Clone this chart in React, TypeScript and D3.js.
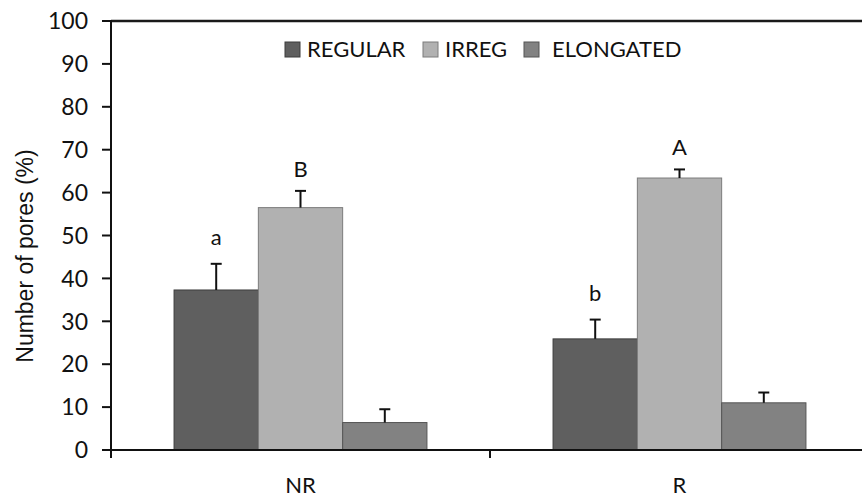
import React from "react";
import * as d3 from "d3";

// Treatment groups on the x axis
const groups = ["NR", "R"];
// Pore shape classes (series)
const series = ["REGULAR", "IRREG", "ELONGATED"];
// Mean share of pores (%) per group, one array per series
const regularValues = [37.3, 25.9];
const irregValues = [56.5, 63.4];
const elongatedValues = [6.4, 11.0];
// Standard errors (upper whiskers)
const regularErrors = [6.1, 4.5];
const irregErrors = [3.9, 2.0];
const elongatedErrors = [3.1, 2.4];
// Significance letters (empty = none)
const regularLetters = ["a", "b"];
const irregLetters = ["B", "A"];
const elongatedLetters = ["", ""];
// Y axis ticks
const yTicks = [0, 10, 20, 30, 40, 50, 60, 70, 80, 90, 100];

const seriesValues = [regularValues, irregValues, elongatedValues];
const seriesErrors = [regularErrors, irregErrors, elongatedErrors];
const seriesLetters = [regularLetters, irregLetters, elongatedLetters];

const fills = ["#5f5f5f", "#b1b1b1", "#828282"];
const strokes = ["#3c3c3c", "#7c7c7c", "#555555"];

const W = 862;
const H = 497;
const labelFont = "Lato, 'Open Sans', sans-serif";

export default function App() {
  const x0 = 111;
  const y0 = 450;
  const yTop = 21;

  const y = d3.scaleLinear().domain([0, 100]).range([y0, yTop]);
  const x = d3.scaleBand().domain(groups).range([x0, 869]).paddingInner(0).paddingOuter(0);
  const xs = d3
    .scaleBand()
    .domain(series)
    .range([0, x.bandwidth()])
    .paddingInner(0)
    .paddingOuter(0.748);

  const legendX = [285, 423, 524];
  const legendTextX = [22, 22, 28];

  return (
    <svg
      width={W}
      height={H}
      viewBox={`0 0 ${W} ${H}`}
      style={{ position: "absolute", left: 0, top: 0, display: "block", background: "#fff" }}
    >
      {/* bars */}
      {series.map((s, si) =>
        groups.map((g, gi) => {
          const v = seriesValues[si][gi];
          const bx = (x(g) as number) + (xs(s) as number);
          return (
            <rect
              key={`${s}-${g}`}
              x={bx}
              y={y(v)}
              width={xs.bandwidth()}
              height={y(0) - y(v)}
              fill={fills[si]}
              stroke={strokes[si]}
              strokeWidth={1}
            />
          );
        })
      )}

      {/* error bars */}
      {series.map((s, si) =>
        groups.map((g, gi) => {
          const v = seriesValues[si][gi];
          const e = seriesErrors[si][gi];
          const cx = (x(g) as number) + (xs(s) as number) + xs.bandwidth() / 2;
          return (
            <g key={`err-${s}-${g}`} stroke="#111" strokeWidth={2}>
              <line x1={cx} x2={cx} y1={y(v)} y2={y(v + e)} />
              <line x1={cx - 5.5} x2={cx + 5.5} y1={y(v + e)} y2={y(v + e)} />
            </g>
          );
        })
      )}

      {/* significance letters */}
      {series.map((s, si) =>
        groups.map((g, gi) => {
          const letter = seriesLetters[si][gi];
          if (!letter) return null;
          const top = seriesValues[si][gi] + seriesErrors[si][gi];
          const cx = (x(g) as number) + (xs(s) as number) + xs.bandwidth() / 2;
          const gap = /[a-z]/.test(letter) ? 19 : 14;
          return (
            <text
              key={`lab-${s}-${g}`}
              x={cx}
              y={y(top) - gap}
              textAnchor="middle"
              fontFamily={labelFont}
              fontSize={22}
              fill="#111"
            >
              {letter}
            </text>
          );
        })
      )}

      {/* frame: top border, y axis, x axis */}
      <line x1={x0} x2={W} y1={yTop} y2={yTop} stroke="#1a1a1a" strokeWidth={2.5} />
      <line x1={x0} x2={x0} y1={yTop - 1} y2={y0 + 8} stroke="#111" strokeWidth={2} />
      <line x1={x0 - 9} x2={W} y1={y0} y2={y0} stroke="#111" strokeWidth={2} />

      {/* y ticks and labels */}
      {yTicks.map((t) => (
        <g key={`yt-${t}`}>
          <line x1={x0 - 9} x2={x0} y1={y(t)} y2={y(t)} stroke="#111" strokeWidth={2} />
          <text
            x={x0 - 23}
            y={y(t)}
            dy="0.36em"
            textAnchor="end"
            fontFamily={labelFont}
            fontSize={23}
            fill="#111"
          >
            {t}
          </text>
        </g>
      ))}

      {/* x ticks at group boundaries */}
      {groups.slice(1).map((g) => (
        <line
          key={`xt-${g}`}
          x1={x(g) as number}
          x2={x(g) as number}
          y1={y0}
          y2={y0 + 8}
          stroke="#111"
          strokeWidth={2}
        />
      ))}

      {/* x labels */}
      {groups.map((g) => (
        <text
          key={`xl-${g}`}
          x={(x(g) as number) + x.bandwidth() / 2}
          y={493}
          textAnchor="middle"
          fontFamily={labelFont}
          fontSize={22}
          fill="#111"
        >
          {g}
        </text>
      ))}

      {/* y axis title */}
      <text
        transform={`translate(33, 256) rotate(-90)`}
        textAnchor="middle"
        fontFamily="'Liberation Sans', Arial, sans-serif"
        fontSize={23}
        fill="#111"
      >
        Number of pores (%)
      </text>

      {/* legend */}
      {series.map((s, si) => (
        <g key={`lg-${s}`} transform={`translate(${legendX[si]}, 42)`}>
          <rect x={0} y={0} width={15} height={15} fill={fills[si]} stroke={strokes[si]} strokeWidth={1} />
          <text x={legendTextX[si]} y={15} fontFamily={labelFont} fontSize={22} fill="#111">
            {s}
          </text>
        </g>
      ))}
    </svg>
  );
}
